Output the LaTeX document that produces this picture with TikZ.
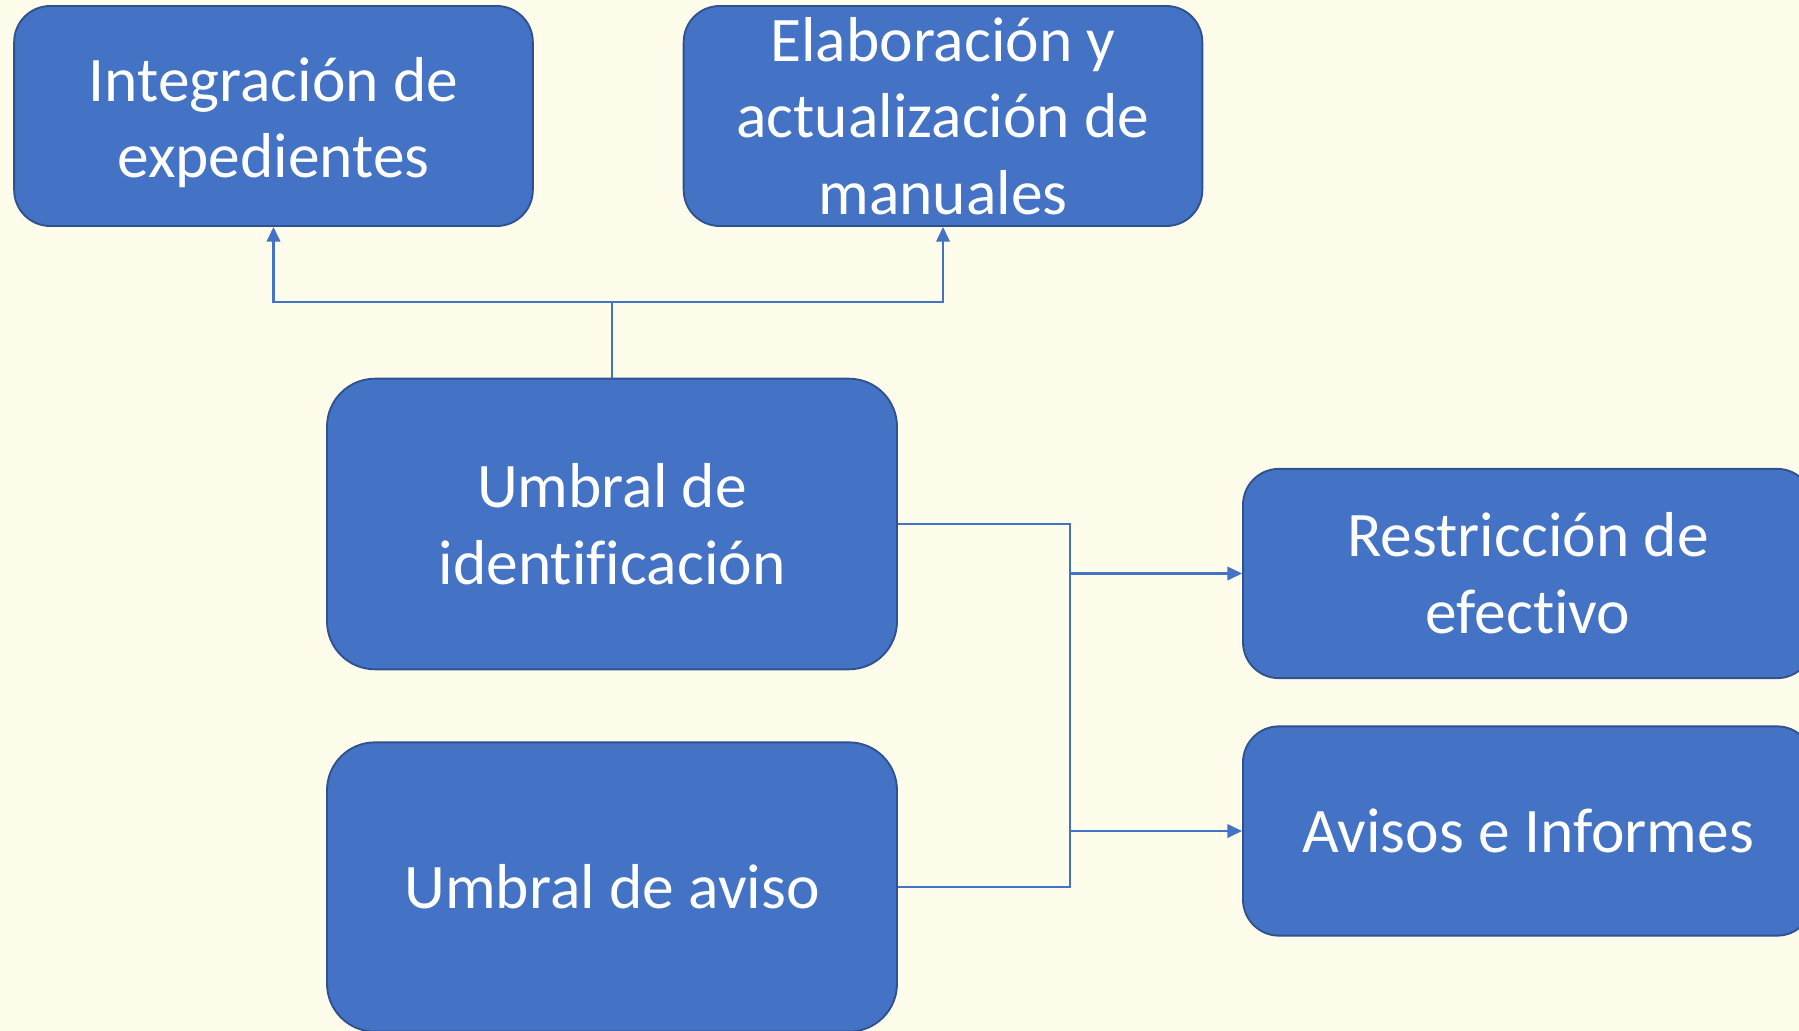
\documentclass[tikz,border=0pt]{standalone}
\usepackage{fontspec}
\setmainfont{Carlito}[Ligatures=NoCommon]
\usetikzlibrary{arrows.meta}
\definecolor{bg}{HTML}{FEFDEC}
\definecolor{boxfill}{HTML}{4472C4}
\definecolor{boxline}{HTML}{2F528F}
\definecolor{conncol}{HTML}{4472C4}
\tikzset{
  boxtext/.style={text=white, align=center, inner sep=0pt, font=\fontsize{47.6pt}{57.5pt}\selectfont},
  box/.style={boxtext, draw=boxline, line width=1.4pt, fill=boxfill},
  smallbox/.style={box, minimum width=389pt, minimum height=165pt, rounded corners=27pt},
  bigbox/.style={box, minimum width=427.5pt, minimum height=218pt, rounded corners=36pt},
  sidebox/.style={box, minimum width=427.5pt, minimum height=157pt, rounded corners=27pt},
  conn/.style={draw=conncol, line width=1.9pt},
  arr/.style={conn, -{Triangle[length=11pt,width=10pt]}}
}
\begin{document}
\begin{tikzpicture}[x=0.75pt,y=-0.75pt]
\fill[bg] (0,0) rectangle (1799,1031);
\useasboundingbox (0,0) rectangle (1799,1031);
\node[smallbox] (b1) at (273.5,116) {};
\node[boxtext] (b1t) at ([yshift=-5pt]b1.center) {Integración de\\expedientes};
\node[smallbox] (b2) at (943,116) {Elaboración y\\actualización de\\manuales};
\node[bigbox] (b3) at (612,524) {Umbral de\\identificación};
\node[bigbox, minimum height=217pt] (b4) at (612,887) {Umbral de aviso};
\node[sidebox] (b5) at (1528,573.5) {Restricción de\\efectivo};
\node[sidebox] (b6) at (1528,831) {Avisos e Informes};
\coordinate (j1) at (612,302);
\coordinate (j2) at (1070,524);
\coordinate (j3) at (1070,887);
\draw[conn] (b3.north) -- (j1);
\draw[arr] (j1) -| (b1.south);
\draw[arr] (j1) -| (b2.south);
\draw[conn] (b3.east) -- (j2) -- (j3) -- (b4.east);
\draw[arr] (j2 |- b5.west) -- (b5.west);
\draw[arr] (j2 |- b6.west) -- (b6.west);
\end{tikzpicture}
\end{document}
